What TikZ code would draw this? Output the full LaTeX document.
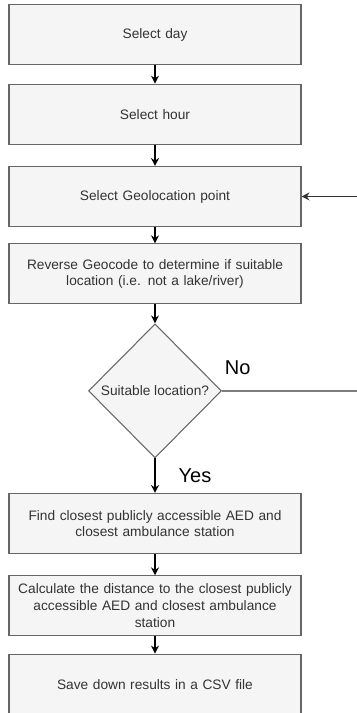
\documentclass[tikz,border=0pt]{standalone}
\usepackage{fontspec}
\setmainfont{Liberation Sans}
\usetikzlibrary{matrix,shapes.geometric,arrows.meta}

\definecolor{boxfill}{HTML}{F5F5F5}
\definecolor{boxline}{HTML}{666666}
\definecolor{boxtext}{HTML}{333333}

\tikzset{
  stepbox/.style={draw=boxline, fill=boxfill, line width=0.6pt, text=boxtext,
    minimum width=5.84cm, minimum height=1.2cm, text width=5.6cm, align=center,
    inner ysep=2pt, font=\fontsize{7.8}{9.5}\selectfont},
  decision/.style={diamond, draw=boxline, fill=boxfill, line width=0.6pt, text=boxtext,
    minimum width=2.66cm, minimum height=2.68cm, inner sep=0pt, aspect=1,
    font=\fontsize{7.8}{9.5}\selectfont},
  flow/.style={-{Stealth[length=4.5pt,width=4.5pt]}, line width=0.75pt},
  backflow/.style={-{Stealth[length=4.5pt,width=4.5pt]}, line width=0.6pt, black!80},
  noline/.style={line width=1pt, draw=boxline!85!white},
  answer/.style={inner sep=0pt, text=black, font=\fontsize{11.4}{13}\selectfont}
}

\begin{document}
\begin{tikzpicture}
\useasboundingbox (0,0) rectangle (7.12,-14.26);

\matrix (a) [matrix of nodes, row sep=0.365cm, inner sep=0pt, anchor=north, ampersand replacement=\&] at (3.1,-0.08) {
|[stepbox]| Select day \\
|[stepbox]| Select hour \\[0.06cm]
|[stepbox]| Select Geolocation point \\[-0.04cm]
|[stepbox]| {Reverse Geocode to determine if suitable\\ location (i.e. not a lake/river)} \\[0.02cm]
|[decision]| Suitable location? \\[0.33cm]
|[stepbox]| {Find closest publicly accessible AED and\\ closest ambulance station} \\[0.06cm]
|[stepbox]| {Calculate the distance to the closest publicly\\ accessible AED and closest ambulance\\ station} \\[-0.02cm]
|[stepbox, minimum height=1.24cm]| Save down results in a CSV file \\
};

\foreach \i/\j in {1-1/2-1, 2-1/3-1, 3-1/4-1, 4-1/5-1,%
            6-1/7-1, 7-1/8-1%
            }
    \draw[flow] (a-\i) -- (a-\j);

\draw[flow] (a-5-1) -- node[answer, anchor=west, xshift=0.46cm] {Yes} (a-6-1);

\coordinate (noend) at (7.3,0 |- a-5-1);
\coordinate (loopin) at (7.3,0 |- a-3-1);
\draw[noline] (a-5-1.east) -- node[pos=0, answer, anchor=south west, xshift=0.04cm, yshift=0.3cm] {No} (noend);
\draw[backflow] (loopin) -- (a-3-1);

\end{tikzpicture}
\end{document}
